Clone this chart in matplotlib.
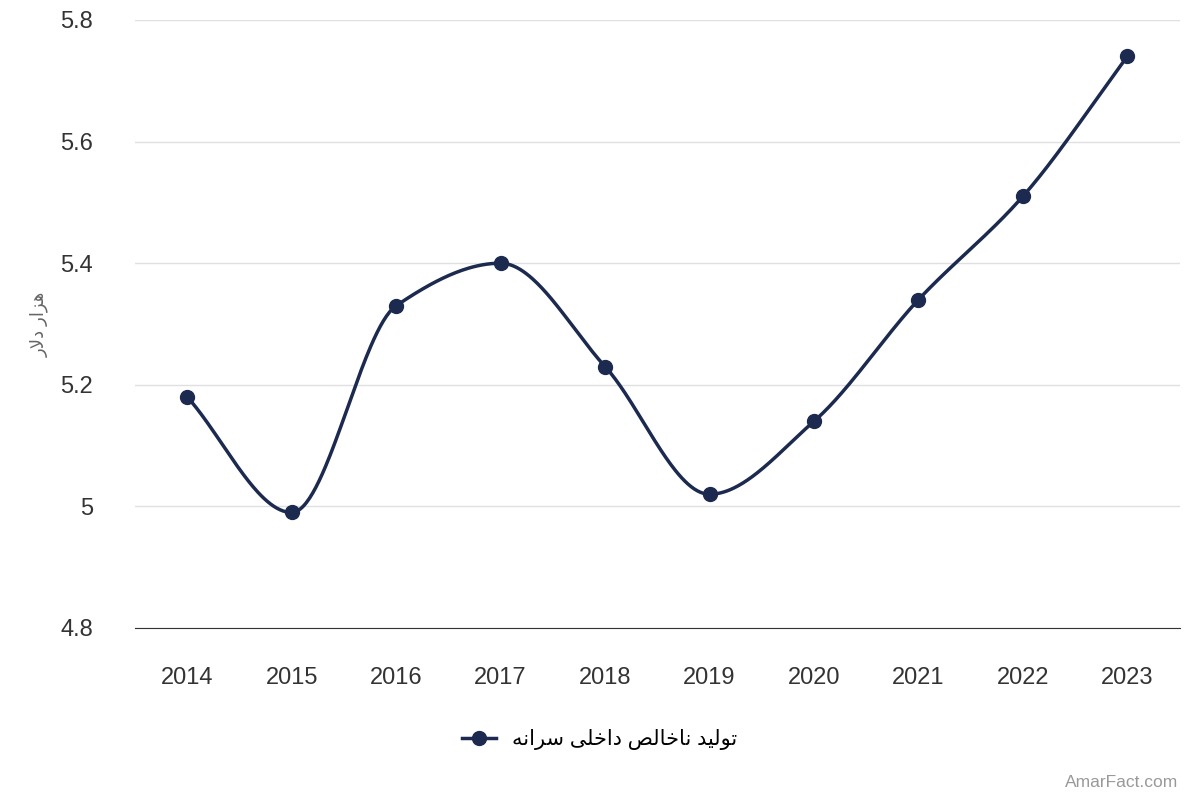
import numpy as np
import matplotlib
matplotlib.use("Agg")
import matplotlib.pyplot as plt
from matplotlib.lines import Line2D

plt.rcParams['font.family'] = ['Liberation Sans', 'DejaVu Sans']

years = [2014, 2015, 2016, 2017, 2018, 2019, 2020, 2021, 2022, 2023]
values = [5.18, 4.99, 5.33, 5.40, 5.23, 5.02, 5.14, 5.34, 5.51, 5.74]
series_name = "تولید ناخالص داخلی سرانه"
y_label = "هزار دلار"

# minimal Arabic/Persian shaping (isolated, final, initial, medial)
FORMS = {
    'ا': (0xFE8D, 0xFE8E, None, None), 'ت': (0xFE95, 0xFE96, 0xFE97, 0xFE98),
    'خ': (0xFEA5, 0xFEA6, 0xFEA7, 0xFEA8), 'د': (0xFEA9, 0xFEAA, None, None),
    'ر': (0xFEAD, 0xFEAE, None, None), 'ز': (0xFEAF, 0xFEB0, None, None),
    'س': (0xFEB1, 0xFEB2, 0xFEB3, 0xFEB4), 'ص': (0xFEB9, 0xFEBA, 0xFEBB, 0xFEBC),
    'ل': (0xFEDD, 0xFEDE, 0xFEDF, 0xFEE0), 'ن': (0xFEE5, 0xFEE6, 0xFEE7, 0xFEE8),
    'ه': (0xFEE9, 0xFEEA, 0xFEEB, 0xFEEC), 'و': (0xFEED, 0xFEEE, None, None),
    'ی': (0xFBFC, 0xFBFD, 0xFBFE, 0xFBFF),
}
def dual(c):
    return c in FORMS and FORMS[c][2] is not None

def shape(s):
    chars = list(s)
    out = []
    i = 0
    while i < len(chars):
        c = chars[i]
        prev = chars[i-1] if i > 0 else ' '
        jp = dual(prev)
        if c == 'ل' and i + 1 < len(chars) and chars[i+1] == 'ا':
            out.append(chr(0xFEFC if jp else 0xFEFB)); i += 2; continue
        if c not in FORMS:
            out.append(c); i += 1; continue
        nxt = chars[i+1] if i + 1 < len(chars) else ' '
        jn = dual(c) and nxt in FORMS
        f = FORMS[c]
        if jp and jn: g = f[3]
        elif jp: g = f[1]
        elif jn: g = f[2]
        else: g = f[0]
        out.append(chr(g)); i += 1
    return ''.join(reversed(out))

def pchip(x, y, xs):
    x = np.asarray(x, float); y = np.asarray(y, float)
    h = np.diff(x); d = np.diff(y) / h
    m = np.zeros_like(y)
    for k in range(1, len(y) - 1):
        if d[k-1] * d[k] > 0:
            w1 = 2*h[k] + h[k-1]; w2 = h[k] + 2*h[k-1]
            m[k] = (w1 + w2) / (w1/d[k-1] + w2/d[k])
    m[0] = d[0]; m[-1] = d[-1]
    ys = np.empty_like(xs)
    for j, xv in enumerate(xs):
        k = min(np.searchsorted(x, xv, side='right') - 1, len(x) - 2)
        t = (xv - x[k]) / h[k]
        h00 = 2*t**3 - 3*t**2 + 1; h10 = t**3 - 2*t**2 + t
        h01 = -2*t**3 + 3*t**2; h11 = t**3 - t**2
        ys[j] = h00*y[k] + h10*h[k]*m[k] + h01*y[k+1] + h11*h[k]*m[k+1]
    return ys

color = "#1b2a4e"
fig = plt.figure(figsize=(12, 8), dpi=100)
ax = fig.add_axes([0.1125, 0.215, 0.8705, 0.76])
xs = np.linspace(years[0], years[-1], 600)
ax.plot(xs, pchip(years, values, xs), color=color, lw=2.5, zorder=3)
ax.plot(years, values, 'o', color=color, ms=10, zorder=4)
ax.set_xlim(2013.5, 2023.5)
ax.set_ylim(4.8, 5.8)
ax.set_xticks(years)
ax.set_xticklabels([str(y) for y in years])
yt = [4.8, 5.0, 5.2, 5.4, 5.6, 5.8]
ax.set_yticks(yt)
ax.set_yticklabels(["4.8", "5", "5.2", "5.4", "5.6", "5.8"])
ax.tick_params(axis='both', length=0, labelsize=17, colors="#333333")
ax.tick_params(axis='x', pad=28)
ax.tick_params(axis='y', pad=30)
ax.grid(axis='y', color="#e0e0e0", lw=1)
for s in ['top', 'right', 'left']:
    ax.spines[s].set_visible(False)
ax.spines['bottom'].set_color("#333333")
ax.set_axisbelow(True)
fig.text(0.033, 0.595, shape(y_label), rotation=90, ha='center', va='center',
         fontsize=13, color="#666666")
h = Line2D([], [], color=color, lw=2.5, marker='o', ms=10)
fig.legend([h], [shape(series_name)], loc='center', bbox_to_anchor=(0.5, 0.075),
           frameon=False, fontsize=15, handlelength=1.6, markerfirst=True)
fig.text(0.982, 0.012, "AmarFact.com", ha='right', va='bottom', fontsize=12.5, color="#999999")
fig.savefig("out.png", dpi=100)
